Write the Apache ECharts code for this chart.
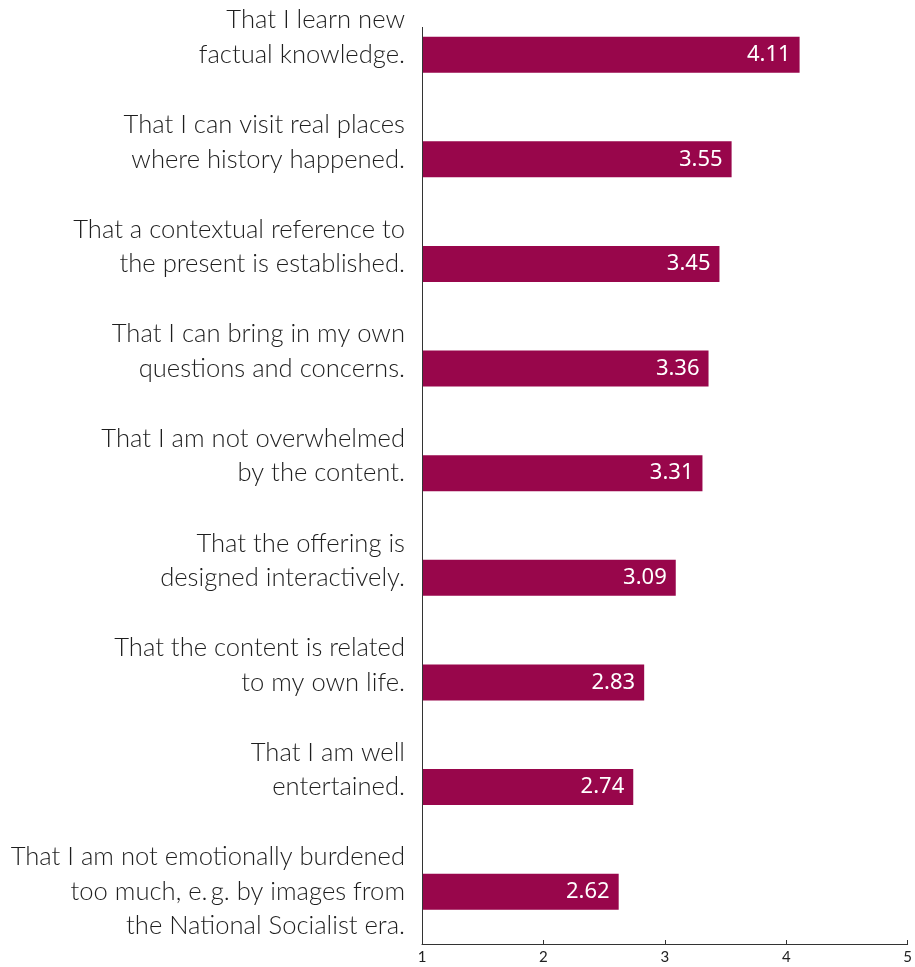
<!DOCTYPE html>
<html>
<head>
<meta charset="utf-8">
<script src="https://cdn.jsdelivr.net/npm/echarts@6/dist/echarts.min.js"></script>
<style>
  html, body { margin: 0; padding: 0; background: #fff; }
  #chart { width: 915px; height: 967px; }
</style>
</head>
<body>
<div id="chart"></div>
<script>
// Statements, listed top to bottom
const statements = [
  'That I learn new\nfactual knowledge.',
  'That I can visit real places\nwhere history happened.',
  'That a contextual reference to\nthe present is established.',
  'That I can bring in my own\nquestions and concerns.',
  'That I am not overwhelmed\nby the content.',
  'That the offering is\ndesigned interactively.',
  'That the content is related\nto my own life.',
  'That I am well\nentertained.',
  'That I am not emotionally burdened\ntoo much, e.\u2009g. by images from\nthe National Socialist era.'
];
// Mean ratings on a 1–5 scale
const ratings = [4.11, 3.55, 3.45, 3.36, 3.31, 3.09, 2.83, 2.74, 2.62];
const scaleTicks = [1, 2, 3, 4, 5];

const chart = echarts.init(document.getElementById('chart'));
const gridTop = 2, gridBottom = 23, gridLeft = 422, gridRight = 6;

chart.setOption({
  animation: false,
  backgroundColor: '#ffffff',
  grid: { left: gridLeft, right: gridRight, top: gridTop, bottom: gridBottom, containLabel: false },
  xAxis: {
    type: 'value',
    min: scaleTicks[0],
    max: scaleTicks[scaleTicks.length - 1],
    interval: 1,
    splitLine: { show: false },
    axisLine: { show: true, lineStyle: { color: '#333', width: 1 } },
    axisTick: { show: true, inside: true, length: 4, lineStyle: { color: '#333' } },
    axisLabel: { color: '#222', fontSize: 15, margin: 6, fontFamily: 'Lato' }
  },
  yAxis: {
    type: 'category',
    inverse: true,
    data: statements,
    axisLine: { show: false },
    axisTick: { show: false },
    axisLabel: {
      interval: 0,
      showMinLabel: true,
      showMaxLabel: true,
      hideOverlap: false,
      margin: 17,
      align: 'right',
      color: '#1e1e1e',
      fontSize: 25.6,
      fontWeight: 300,
      lineHeight: 34.5,
      padding: [6, 0, 0, 0],
      fontFamily: 'Lato',
      // labels hang from the top: pad every block to three lines
      formatter: function (v) {
        const lines = v.split('\n');
        while (lines.length < 3) lines.push('');
        return lines.join('\n');
      }
    }
  },
  series: [{
    type: 'bar',
    data: ratings,
    barWidth: 36,
    itemStyle: { color: '#98064b' },
    label: {
      show: true,
      position: 'insideRight',
      distance: 9,
      color: '#ffffff',
      fontSize: 22,
      fontFamily: 'Noto Sans',
      formatter: p => p.value.toFixed(2)
    }
  }]
});

// vertical baseline at the scale start
const x0 = chart.convertToPixel({ xAxisIndex: 0 }, scaleTicks[0]);
const yBottom = chart.getHeight() - gridBottom;
chart.setOption({
  graphic: [{
    type: 'line',
    shape: { x1: Math.round(x0) + 0.5, y1: gridTop + 25, x2: Math.round(x0) + 0.5, y2: yBottom },
    style: { stroke: '#333', lineWidth: 1 },
    z: 10
  }]
});
</script>
</body>
</html>
